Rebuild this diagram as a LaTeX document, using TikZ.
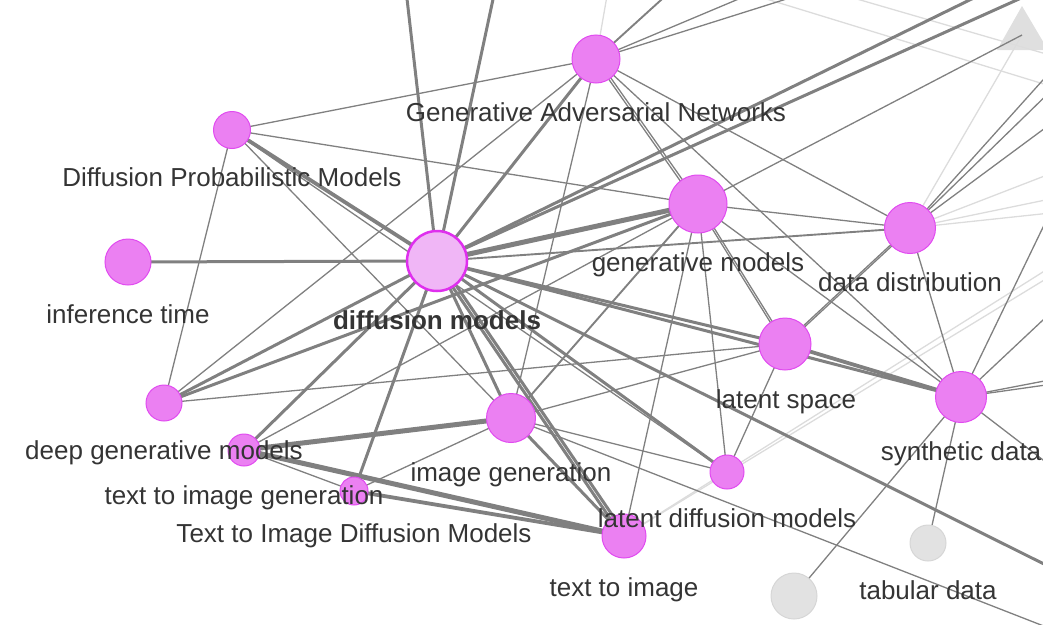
\documentclass[tikz,border=0pt]{standalone}
\usepackage{fontspec}
\setmainfont{Liberation Sans}
\definecolor{nfill}{HTML}{EB80F2}
\definecolor{nbord}{HTML}{E14BF0}
\definecolor{dmfill}{HTML}{F0B6F6}
\definecolor{dmbord}{HTML}{DF2FEE}
\definecolor{edgec}{HTML}{808080}
\definecolor{lightc}{HTML}{DCDCDC}
\definecolor{gfill}{HTML}{E2E2E2}
\definecolor{gbord}{HTML}{D6D6D6}
\definecolor{txtc}{HTML}{343434}
\tikzset{
  nd/.style={circle,fill=nfill,draw=nbord,line width=1pt,inner sep=0pt},
  gnd/.style={circle,fill=gfill,draw=gbord,line width=1pt,inner sep=0pt},
  lbl/.style={font=\fontsize{26}{30}\selectfont,text=txtc,inner sep=0pt,text height=19pt,text depth=5pt,anchor=center},
  ea/.style={draw=edgec,line width=1.3pt},
  eb/.style={draw=edgec,line width=1.9pt},
  ec/.style={draw=edgec,line width=3pt},
  ed/.style={draw=edgec,line width=3.8pt},
  ee/.style={draw=edgec,line width=5pt},
  el/.style={draw=lightc,line width=1.3pt},
}
\begin{document}
\begin{tikzpicture}[x=1pt,y=-1pt]
\useasboundingbox (0,0) rectangle (1043,624);
\clip (0,0) rectangle (1043,624);
% node positions
\coordinate (dm) at (437,261);
\coordinate (gan) at (596,59);
\coordinate (dpm) at (232,130);
\coordinate (it) at (128,262);
\coordinate (gm) at (698,204);
\coordinate (dd) at (910,228);
\coordinate (ls) at (785,344);
\coordinate (sd) at (961,397);
\coordinate (dg) at (164,403);
\coordinate (tig) at (244,450);
\coordinate (tidm) at (354,491);
\coordinate (ig) at (511,418);
\coordinate (ldm) at (727,472);
\coordinate (ti) at (624,536);
\coordinate (td) at (928,543);
\coordinate (g2) at (794,596);
\coordinate (tri) at (1022,35);
% off-frame ends
\coordinate (t1) at (406,-10);
\coordinate (t2) at (495,-10);
\coordinate (t3) at (990,-10);
\coordinate (t4) at (1039,-10);
\coordinate (t5) at (672,-10);
\coordinate (t6) at (760,-10);
\coordinate (t7) at (815,-10);
\coordinate (t8) at (608,-10);
\coordinate (b1) at (1100,592);
\coordinate (b2) at (1100,648);
\coordinate (r1) at (1060,61);
\coordinate (r2) at (1060,82);
\coordinate (r3) at (1060,117);
\coordinate (r4) at (1060,170);
\coordinate (r5) at (1060,197);
\coordinate (r6) at (1060,212);
\coordinate (s1) at (1060,192);
\coordinate (s2) at (1060,304);
\coordinate (s3) at (1060,378);
\coordinate (s4) at (1060,383);
\coordinate (s5) at (1060,473);
\coordinate (u1) at (1100,236);
\coordinate (u2) at (1100,246);
\coordinate (v1) at (760,-3);
\coordinate (v2) at (1060,89);
\coordinate (v3) at (850,-3);
\coordinate (v4) at (1060,58);
% light edges
\draw[el] (ti) -- (u1);
\draw[el] (ti) -- (u2);
\draw[el] (v1) -- (v2);
\draw[el] (v3) -- (v4);
\draw[el] (gan) -- (t8);
\draw[el] (dd) -- (tri);
\draw[el] (dd) -- (r4);
\draw[el] (dd) -- (r5);
\draw[el] (dd) -- (r6);
% triangle
\fill[lightc,opacity=0.9] (1022,6) -- (997,50) -- (1048,50) -- cycle;
% diffusion models edges
\draw[ec] (dm) -- (t1);
\draw[ec] (dm) -- (t2);
\draw[ec] (dm) -- (gan);
\draw[ec] (dm) -- (t3);
\draw[ec] (dm) -- (t4);
\draw[ed] (dm) -- (dpm);
\draw[ec] (dm) -- (it);
\draw[ee] (dm) -- (gm);
\draw[eb] (dm) -- (dd);
\draw[ec] (dm) -- (ls);
\draw[ec] (dm) -- (sd);
\draw[ec] (dm) -- (b1);
\draw[ec] (dm) -- (ig);
\draw[ec] ([xshift=-2pt]dm) -- ([xshift=-2pt]ti);
\draw[ec] ([xshift=2.5pt]dm) -- ([xshift=2.5pt]ti);
\draw[ec] (dm) -- (ldm);
\draw[ec] (dm) -- (dg);
\draw[ec] (dm) -- (tig);
\draw[ec] (dm) -- (tidm);
% Diffusion Probabilistic Models
\draw[ea] (dpm) -- (gan);
\draw[ea] (dpm) -- (gm);
\draw[ea] (dpm) -- (ig);
\draw[ea] (dpm) -- (ldm);
\draw[ea] (dpm) -- (dg);
% deep generative models
\draw[ec] (dg) -- (gm);
\draw[ea] (dg) -- (gan);
\draw[ea] (dg) -- (ls);
% text to image generation
\draw[ee] (tig) -- (ig);
\draw[ee] (tig) -- (ti);
\draw[ea] (tig) -- (tidm);
\draw[ea] (tig) -- (gm);
% Text to Image Diffusion Models
\draw[ed] (tidm) -- (ti);
\draw[ea] (tidm) -- (ig);
% image generation
\draw[ec] (ig) -- (ti);
\draw[ea] (ig) -- (gan);
\draw[eb] (ig) -- (gm);
\draw[ea] (ig) -- (ls);
\draw[ea] (ig) -- (ldm);
\draw[ea] (ig) -- (b2);
% generative models
\draw[ea] ([xshift=-1.5pt]gm) -- ([xshift=-1.5pt]gan);
\draw[ea] ([xshift=1.5pt]gm) -- ([xshift=1.5pt]gan);
\draw[ea] (gm) -- (ldm);
\draw[ea] (gm) -- (ti);
\draw[ea] (gm) -- (dd);
\draw[ea] ([xshift=-1.2pt]gm) -- ([xshift=-1.2pt]ls);
\draw[ea] ([xshift=1.2pt]gm) -- ([xshift=1.2pt]ls);
\draw[ea] (gm) -- (sd);
\draw[ea] (gm) -- (tri);
% Generative Adversarial Networks
\draw[ea] (gan) -- (dd);
\draw[ea] (gan) -- (sd);
\draw[eb] (gan) -- (t5);
\draw[ea] (gan) -- (t6);
\draw[ea] (gan) -- (t7);
% data distribution
\draw[ea] ([xshift=-1.2pt]dd) -- ([xshift=-1.2pt]ls);
\draw[ea] ([xshift=1.2pt]dd) -- ([xshift=1.2pt]ls);
\draw[ea] (dd) -- (sd);
\draw[ea] (dd) -- (r1);
\draw[ea] (dd) -- (r2);
\draw[ea] (dd) -- (r3);
% latent space
\draw[ed] (ls) -- (sd);
\draw[ea] (ls) -- (ldm);
% synthetic data
\draw[ea] (sd) -- (td);
\draw[ea] (sd) -- (g2);
\draw[ea] (sd) -- (s1);
\draw[ea] (sd) -- (s2);
\draw[ea] (sd) -- (s3);
\draw[ea] (sd) -- (s4);
\draw[ea] (sd) -- (s5);
% nodes
\node[gnd,minimum size=36pt] (ntd) at (td) {};
\node[gnd,minimum size=46pt] (ng2) at (g2) {};
\node[nd,minimum size=48pt] (ngan) at (gan) {};
\node[nd,minimum size=37pt] (ndpm) at (dpm) {};
\node[nd,minimum size=46pt] (nit) at (it) {};
\node[nd,minimum size=58pt] (ngm) at (gm) {};
\node[nd,minimum size=51pt] (ndd) at (dd) {};
\node[nd,minimum size=52pt] (nls) at (ls) {};
\node[nd,minimum size=51pt] (nsd) at (sd) {};
\node[nd,minimum size=36pt] (ndg) at (dg) {};
\node[nd,minimum size=32pt] (ntig) at (tig) {};
\node[nd,minimum size=28pt] (ntidm) at (tidm) {};
\node[nd,minimum size=49pt] (nig) at (ig) {};
\node[nd,minimum size=34pt] (nldm) at (ldm) {};
\node[nd,minimum size=44pt] (nti) at (ti) {};
\node[circle,fill=dmfill,draw=dmbord,line width=2.5pt,inner sep=0pt,minimum size=60pt] (ndm) at (dm) {};
% labels
\node[lbl] (lgan) at (596,114) {Generative Adversarial Networks};
\node[lbl] (ldpm) at (232,179) {Diffusion Probabilistic Models};
\node[lbl] (lit) at (128,316) {inference time};
\node[lbl,font=\fontsize{26}{30}\selectfont\bfseries] (ldm) at (437,322) {diffusion models};
\node[lbl] (lgm) at (698,264) {generative models};
\node[lbl] (ldd) at (910,284) {data distribution};
\node[lbl] (lls) at (786,401) {latent space};
\node[lbl] (lsd) at (961,453) {synthetic data};
\node[lbl] (ldg) at (164,452) {deep generative models};
\node[lbl] (ltig) at (244,497) {text to image generation};
\node[lbl] (ltidm) at (354,535) {Text to Image Diffusion Models};
\node[lbl] (lig) at (511,474) {image generation};
\node[lbl] (lldm) at (727,520) {latent diffusion models};
\node[lbl] (lti) at (624,589) {text to image};
\node[lbl] (ltd) at (928,592) {tabular data};
\end{tikzpicture}
\end{document}
